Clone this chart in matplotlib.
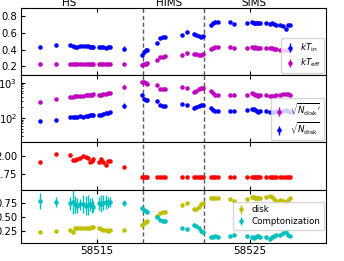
import numpy as np
import matplotlib
matplotlib.use("Agg")
import matplotlib.pyplot as plt

# --- observation times (MJD) ---
t = [58511.29, 58512.29,
     58513.25, 58513.42, 58513.55, 58513.68, 58513.86,
     58514.07, 58514.25, 58514.38, 58514.51, 58514.64, 58514.77,
     58515.16, 58515.29, 58515.42, 58515.56, 58515.69, 58515.82,
     58516.78,
     58517.92, 58518.08, 58518.18, 58518.30,
     58518.95, 58519.15, 58519.30, 58519.45,
     58520.57, 58520.87,
     58521.35, 58521.50, 58521.65, 58521.80, 58521.95,
     58522.45, 58522.60, 58522.75, 58522.90,
     58523.68, 58524.00,
     58524.85, 58525.15, 58525.25, 58525.35, 58525.45, 58525.55, 58525.65,
     58526.05, 58526.30, 58526.45, 58526.60, 58526.75, 58526.95,
     58527.20, 58527.35, 58527.50, 58527.65]

# --- panel 1: temperatures (keV) ---
kt_in = [0.43, 0.45, 0.45, 0.44, 0.435, 0.435, 0.44, 0.445, 0.44, 0.44, 0.43, 0.425,
         0.435, 0.43, 0.43, 0.425, 0.42, 0.425, 0.43, 0.41,
         0.33, 0.37, 0.39, 0.40,
         0.475, 0.54, 0.545, 0.55,
         0.57, 0.61,
         0.585, 0.575, 0.56, 0.55, 0.565,
         0.69, 0.72, 0.725, 0.73,
         0.73, 0.71,
         0.72, 0.725, 0.72, 0.72, 0.715, 0.72, 0.715,
         0.72, 0.71, 0.715, 0.70, 0.69, 0.69,
         0.68, 0.65, 0.69, 0.695]
kt_eff = [0.225] * 20 + [
          0.22, 0.225, 0.23, 0.235,
          0.28, 0.31, 0.315, 0.32,
          0.34, 0.355,
          0.35, 0.345, 0.34, 0.34, 0.35,
          0.41, 0.42, 0.425, 0.43,
          0.425, 0.42,
          0.42, 0.425, 0.42, 0.425, 0.42, 0.42, 0.42,
          0.42, 0.415, 0.415, 0.41, 0.405, 0.40,
          0.40, 0.395, 0.40, 0.40]
kt_in_err = [0.01] * 19 + [0.03] + [0.01] * 38

# --- panel 2: normalisations ---
ndisk_p = [293, 356, 400, 405, 410, 412, 417, 435, 440, 445, 450, 455, 465,
           445, 455, 470, 490, 510, 520, 770,
           1040, 1020, 990, 950,
           860, 680, 660, 650,
           735, 690,
           560, 600, 650, 700, 690,
           580, 500, 460, 450,
           445, 445,
           450, 520, 480, 460, 440, 430, 440,
           455, 430, 415, 420, 440, 450,
           480, 490, 470, 460]
ndisk = [80, 85, 105, 108, 110, 110, 112, 110, 112, 115, 118, 120, 122,
         122, 118, 128, 135, 142, 148, 225,
         460, 350, 330, 320,
         300, 230, 225, 220,
         250, 235,
         190, 205, 225, 240, 230,
         195, 170, 162, 160,
         160, 160,
         170, 185, 175, 165, 155, 150, 155,
         160, 150, 145, 148, 155, 160,
         160, 165, 160, 150]
ndisk_p_err = [10] * 19 + [90] + [20] * 38
ndisk_err = [4] * 19 + [35] + [8] * 38

# --- panel 3 ---
gamma = [1.915, 2.03, 2.01, 1.943, 1.943, 1.962, 1.976, 2.0, 1.986, 1.976,
         1.91, 1.925, 1.962, 1.915, 1.962, 1.91, 1.873, 1.925, 1.925, 1.84] + [1.70] * 38

# --- panel 4: flux fractions ---
f_disk = [0.23, 0.25, 0.27, 0.22, 0.29, 0.30, 0.30, 0.29, 0.30, 0.29, 0.30, 0.31,
          0.32, 0.30, 0.28, 0.26, 0.26, 0.25, 0.26, 0.26,
          0.345, 0.39, 0.41, 0.42,
          0.51, 0.57, 0.58, 0.58,
          0.71, 0.745,
          0.63, 0.64, 0.68, 0.72, 0.75,
          0.84, 0.84, 0.83, 0.84,
          0.82, 0.78,
          0.82, 0.85, 0.86, 0.84, 0.84, 0.83, 0.84,
          0.86, 0.87, 0.85, 0.81, 0.79, 0.80,
          0.78, 0.77, 0.80, 0.83]
f_comp = [0.78, 0.77, 0.74, 0.76, 0.72, 0.70, 0.72, 0.73, 0.70, 0.71, 0.72, 0.70,
          0.68, 0.74, 0.73, 0.75, 0.76, 0.75, 0.76, 0.75,
          0.65, 0.62, 0.60, 0.59,
          0.50, 0.44, 0.42, 0.42,
          0.30, 0.28,
          0.35, 0.34, 0.30, 0.25, 0.22,
          0.14, 0.14, 0.15, 0.14,
          0.16, 0.18,
          0.15, 0.13, 0.12, 0.14, 0.15, 0.16, 0.14,
          0.13, 0.11, 0.13, 0.16, 0.17, 0.18,
          0.21, 0.22, 0.18, 0.15]
f_comp_err = [0.15, 0.09, 0.12, 0.22, 0.15, 0.13, 0.10, 0.16, 0.17, 0.18,
              0.12, 0.14, 0.10, 0.12, 0.15, 0.13, 0.12, 0.10, 0.09, 0.05] + [0.02] * 38
f_disk_err = [0.015] * 58

states = ["HS", "HIMS", "SIMS"]
state_x = [58513.2, 58519.75, 58525.3]
transitions = [58518, 58522]

plt.rcParams['font.size'] = 7.2
fig = plt.figure(figsize=(3.44, 2.61), dpi=100)
gs = fig.add_gridspec(4, 1, height_ratios=[67, 67, 48, 53],
                      left=0.060, right=0.948, top=0.971, bottom=0.069, hspace=0)
axs = [fig.add_subplot(gs[i]) for i in range(4)]

kw = dict(fmt='.', ms=4.5, elinewidth=1, capsize=0)
a1, a2, a3, a4 = axs

a1.errorbar(t, kt_in, yerr=kt_in_err, color='b', label=r'$kT_{\rm in}$', **kw)
a1.errorbar(t, kt_eff, yerr=0.005, color='m', label=r'$kT_{\rm eff}$', **kw)
a1.set_ylim(0.1, 0.9)
a1.set_yticks([0.2, 0.4, 0.6, 0.8])

a2.errorbar(t, ndisk_p, yerr=ndisk_p_err, color='m', label=r"$\sqrt{N_{\rm disk}}'$", **kw)
a2.errorbar(t, ndisk, yerr=ndisk_err, color='b', label=r'$\sqrt{N_{\rm disk}}$', **kw)
a2.set_yscale('log')
a2.set_ylim(21, 1700)

a3.errorbar(t, gamma, yerr=0.005, color='r', **kw)
a3.set_ylim(1.52, 2.2)
a3.set_yticks([1.75, 2.00])

a4.errorbar(t, f_disk, yerr=f_disk_err, color='y', label='disk', **kw)
a4.errorbar(t, f_comp, yerr=f_comp_err, color='c', label='Comptonization', **kw)
a4.set_ylim(0.03, 0.98)
a4.set_yticks([0.25, 0.50, 0.75])
a4.set_xlabel('Time (MJD)', fontsize=7.5, labelpad=3)

for ax in axs:
    ax.set_xlim(58510, 58530)
    ax.set_xticks([58515, 58525])
    ax.tick_params(direction='in', top=True, which='both', length=3)
    ax.tick_params(which='minor', length=1.5)
    ax.tick_params(axis='y', pad=2.5)
    ax.tick_params(axis='x', pad=2.5, labelsize=7.5)
    for xv in transitions:
        ax.axvline(xv, color='0.35', ls=(0, (3, 2)), lw=1)
    if ax is not a4:
        ax.tick_params(labelbottom=False)
    ax.get_xaxis().get_major_formatter().set_useOffset(False)

for s, xs in zip(states, state_x):
    a1.text(xs, 1.0, s, transform=a1.get_xaxis_transform(), ha='center', va='bottom',
            fontsize=7.5)

leg_kw = dict(fontsize=6.3, handlelength=1.2, borderpad=0.4, labelspacing=0.3,
              handletextpad=0.6, borderaxespad=0.2)
a1.legend(loc='lower right', **leg_kw)
a2.legend(loc='lower right', **leg_kw)
a4.legend(loc='lower right', bbox_to_anchor=(1.0, 0.22), **leg_kw)

fig.savefig('out.png', dpi=100)
